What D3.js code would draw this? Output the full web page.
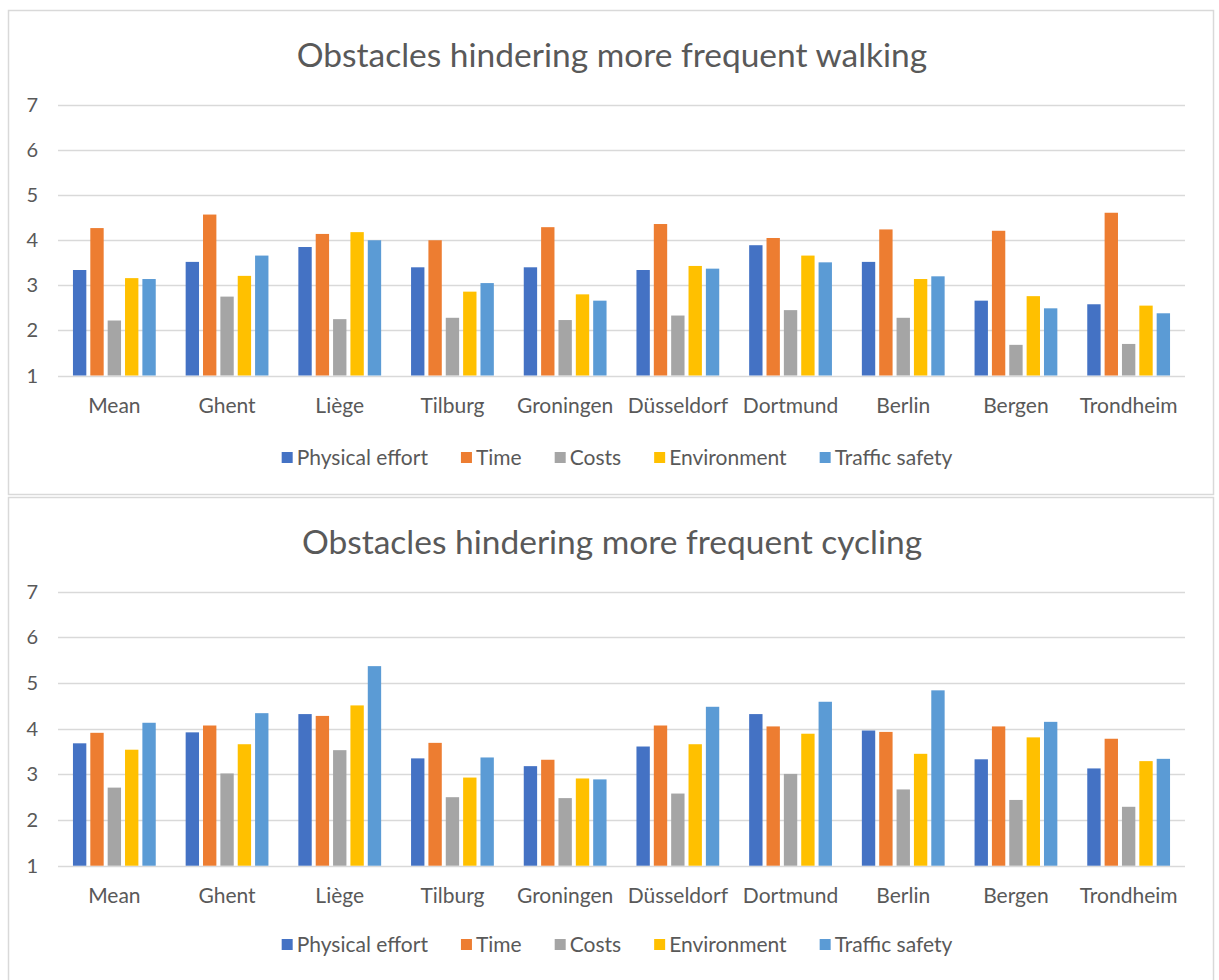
<!DOCTYPE html>
<html>
<head>
<meta charset="utf-8">
<script src="https://cdn.jsdelivr.net/npm/d3@7"></script>
<style>
  body { margin: 0; background: #fff; }
  text { font-family: Lato, "Open Sans", sans-serif; fill: #595959; }
</style>
</head>
<body>
<script>
// data
var cities = ["Mean", "Ghent", "Liège", "Tilburg", "Groningen", "Düsseldorf", "Dortmund", "Berlin", "Bergen", "Trondheim"];
var series = ["Physical effort", "Time", "Costs", "Environment", "Traffic safety"];
var colors = ["#4472C4", "#ED7D31", "#A5A5A5", "#FFC000", "#5B9BD5"];
var yTicks = [1, 2, 3, 4, 5, 6, 7];

// walking
var walkEffort  = [3.34, 3.52, 3.85, 3.40, 3.40, 3.34, 3.89, 3.52, 2.66, 2.58];
var walkTime    = [4.27, 4.57, 4.14, 4.00, 4.29, 4.36, 4.05, 4.24, 4.21, 4.61];
var walkCosts   = [2.22, 2.75, 2.25, 2.28, 2.23, 2.33, 2.45, 2.28, 1.68, 1.70];
var walkEnv     = [3.16, 3.21, 4.18, 2.86, 2.80, 3.43, 3.66, 3.14, 2.76, 2.55];
var walkSafety  = [3.14, 3.66, 4.00, 3.05, 2.66, 3.37, 3.51, 3.20, 2.49, 2.38];

// cycling
var cycleEffort = [3.68, 3.92, 4.32, 3.35, 3.18, 3.61, 4.32, 3.96, 3.33, 3.13];
var cycleTime   = [3.91, 4.07, 4.28, 3.69, 3.32, 4.07, 4.05, 3.93, 4.05, 3.78];
var cycleCosts  = [2.71, 3.02, 3.53, 2.50, 2.48, 2.58, 3.01, 2.67, 2.44, 2.29];
var cycleEnv    = [3.54, 3.66, 4.51, 2.93, 2.91, 3.66, 3.89, 3.45, 3.81, 3.29];
var cycleSafety = [4.13, 4.34, 5.37, 3.37, 2.89, 4.48, 4.59, 4.84, 4.15, 3.34];

var W = 1219, H = 980;
var svg = d3.select("body").append("svg").attr("width", W).attr("height", H);

function drawChart(top, title, values, plotTop, plotBottom, legendY) {
  var panelH = 484;

  // panel frame
  svg.append("rect")
    .attr("x", 8.5).attr("y", top + 0.5)
    .attr("width", 1205).attr("height", panelH)
    .attr("fill", "#fff").attr("stroke", "#d9d9d9").attr("stroke-width", 1.5);

  var g = svg.append("g");

  var x = d3.scaleBand().domain(cities).range([58, 1185]).paddingInner(0.23).paddingOuter(0.115);
  var xs = d3.scaleBand().domain(series).range([0, x.bandwidth()]).paddingInner(0.23).paddingOuter(0.115);
  var y = d3.scaleLinear().domain([1, 7]).range([plotBottom, plotTop]);

  // gridlines
  g.append("g").selectAll("line").data(yTicks).enter().append("line")
    .attr("x1", 58).attr("x2", 1185)
    .attr("y1", d => Math.round(y(d)) + 0.5).attr("y2", d => Math.round(y(d)) + 0.5)
    .attr("stroke", "#d9d9d9").attr("stroke-width", 1.5);

  // y labels
  g.append("g").selectAll("text").data(yTicks).enter().append("text")
    .attr("x", 38).attr("y", d => y(d)).attr("dy", "0.35em")
    .attr("text-anchor", "end").attr("font-size", 20)
    .text(d => d);

  // bars
  series.forEach(function(s, si) {
    g.append("g").selectAll("rect").data(values[si]).enter().append("rect")
      .attr("x", (d, i) => x(cities[i]) + xs(s))
      .attr("width", xs.bandwidth())
      .attr("y", d => y(d))
      .attr("height", d => y(1) - y(d))
      .attr("fill", colors[si]);
  });

  // x labels
  g.append("g").selectAll("text").data(cities).enter().append("text")
    .attr("x", d => x(d) + x.bandwidth() / 2)
    .attr("y", plotBottom + 30).attr("dy", "0.35em")
    .attr("text-anchor", "middle").attr("font-size", 21)
    .text(d => d);

  // title
  g.append("text")
    .attr("x", 612).attr("y", top + 45).attr("dy", "0.35em")
    .attr("text-anchor", "middle").attr("font-size", 33.5)
    .text(title);

  // legend, centred
  var lg = g.append("g");
  var cx = 0, gap = 33;
  series.forEach(function(s, si) {
    var item = lg.append("g").attr("transform", "translate(" + cx + ",0)");
    item.append("rect").attr("x", 0).attr("y", -6).attr("width", 11).attr("height", 11).attr("fill", colors[si]);
    var t = item.append("text").attr("x", 15).attr("y", 0).attr("dy", "0.35em")
      .attr("font-size", 21).text(s);
    cx += 15 + t.node().getComputedTextLength() + gap;
  });
  cx -= gap;
  lg.attr("transform", "translate(" + (617 - cx / 2) + "," + legendY + ")");
}

drawChart(10, "Obstacles hindering more frequent walking",
  [walkEffort, walkTime, walkCosts, walkEnv, walkSafety], 105, 375.5, 458);
drawChart(497, "Obstacles hindering more frequent cycling",
  [cycleEffort, cycleTime, cycleCosts, cycleEnv, cycleSafety], 591.7, 865.7, 945);
</script>
</body>
</html>
